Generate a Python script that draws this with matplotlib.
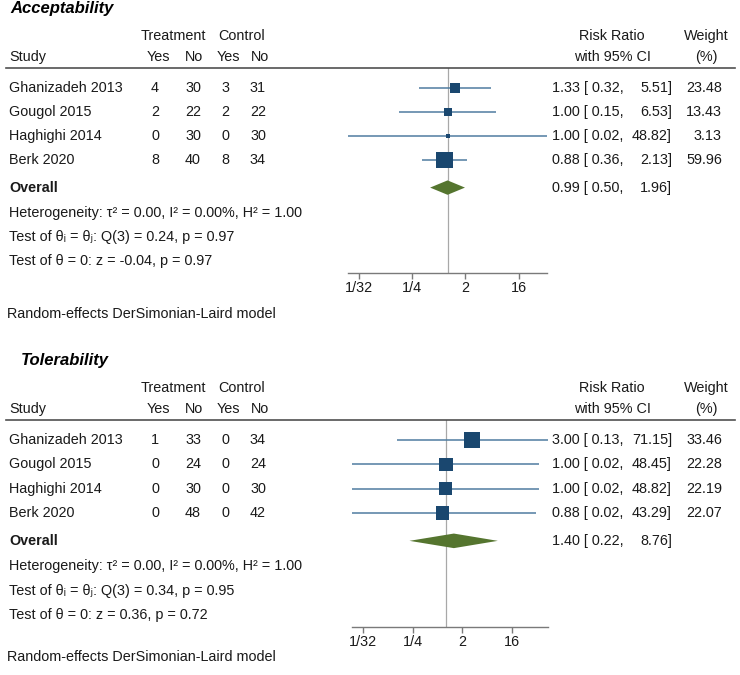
import numpy as np
import matplotlib
matplotlib.use("Agg")
import matplotlib.pyplot as plt
from matplotlib.transforms import blended_transform_factory
from matplotlib.lines import Line2D

plt.rcParams['font.family'] = ['Liberation Sans', 'DejaVu Sans']

# ---------------- data ----------------
studies = ["Ghanizadeh 2013", "Gougol 2015", "Haghighi 2014", "Berk 2020"]

acc_t_yes = [4, 2, 0, 8]
acc_t_no = [30, 22, 30, 40]
acc_c_yes = [3, 2, 0, 8]
acc_c_no = [31, 22, 30, 34]
acc_rr = [1.33, 1.00, 1.00, 0.88]
acc_lo = [0.32, 0.15, 0.02, 0.36]
acc_hi = [5.51, 6.53, 48.82, 2.13]
acc_w = [23.48, 13.43, 3.13, 59.96]
acc_overall = [0.99, 0.50, 1.96]
acc_stats = ["Heterogeneity: τ² = 0.00, I² = 0.00%, H² = 1.00",
             "Test of θᵢ = θⱼ: Q(3) = 0.24, p = 0.97",
             "Test of θ = 0: z = -0.04, p = 0.97"]

tol_t_yes = [1, 0, 0, 0]
tol_t_no = [33, 24, 30, 48]
tol_c_yes = [0, 0, 0, 0]
tol_c_no = [34, 24, 30, 42]
tol_rr = [3.00, 1.00, 1.00, 0.88]
tol_lo = [0.13, 0.02, 0.02, 0.02]
tol_hi = [71.15, 48.45, 48.82, 43.29]
tol_w = [33.46, 22.28, 22.19, 22.07]
tol_overall = [1.40, 0.22, 8.76]
tol_stats = ["Heterogeneity: τ² = 0.00, I² = 0.00%, H² = 1.00",
             "Test of θᵢ = θⱼ: Q(3) = 0.34, p = 0.95",
             "Test of θ = 0: z = 0.36, p = 0.72"]

tick_vals = [1/32, 1/4, 2, 16]
tick_labels = ["1/32", "1/4", "2", "16"]
model_note = "Random-effects DerSimonian-Laird model"

# ---------------- style ----------------
W, H = 740, 675
FS = 10.4
SQ_COLOR = "#1a476f"
CI_COLOR = "#4f7ca0"
DIA_COLOR = "#55752f"
REF_COLOR = "#a8a8a8"
AX_COLOR = "#7a7a7a"
TXT = "#1a1a1a"

fig = plt.figure(figsize=(W / 100, H / 100), dpi=100)


def fx(px):
    return px / W


def draw_panel(title, title_x, header_y, row_step, axis_y, note_y, ax_left, ax_right,
               t_yes, t_no, c_yes, c_no, rr, lo, hi, w, overall, stats):
    n = len(studies)
    first_row = header_y + 20
    y_top = -(first_row - header_y) / row_step
    y_bot = (axis_y - first_row) / row_step
    ax = fig.add_axes([fx(ax_left), 1 - axis_y / H, fx(ax_right) - fx(ax_left),
                       (axis_y - header_y) / H])
    ax.set_xscale('log', base=2)
    ax.set_xlim(min(lo), max(hi))
    ax.set_ylim(y_bot, y_top)
    ax.patch.set_alpha(0)
    for s in ['top', 'right', 'left']:
        ax.spines[s].set_visible(False)
    ax.spines['bottom'].set_color(AX_COLOR)
    ax.spines['bottom'].set_linewidth(1.0)
    ax.set_yticks([])
    ax.set_xticks(tick_vals)
    ax.set_xticklabels(tick_labels)
    ax.minorticks_off()
    ax.tick_params(axis='x', length=4, width=1.0, color=AX_COLOR,
                   labelsize=FS, labelcolor=TXT, pad=1.5)

    tr = blended_transform_factory(fig.transFigure, ax.transData)
    ys = np.arange(n)
    y_over = n + 0.15
    stat_ys = [n + 1.2, n + 2.2, n + 3.22]

    # reference line
    ax.axvline(1, color=REF_COLOR, lw=0.9, zorder=1)
    # CIs and squares
    wmax = max(w)
    sizes = [(16.5 * np.sqrt(wi / wmax) * 0.72) ** 2 for wi in w]
    ax.hlines(ys, lo, hi, color=CI_COLOR, lw=1.1, zorder=2)
    ax.scatter(rr, ys, s=sizes, marker='s', color=SQ_COLOR,
               edgecolors='none', zorder=3)
    # diamond
    est, olo, ohi = overall
    h = 0.3
    ax.fill([olo, est, ohi, est], [y_over, y_over - h, y_over, y_over + h],
            color=DIA_COLOR, lw=0, zorder=3)

    # header
    hdr1 = -(first_row - (header_y - 32)) / row_step
    hdr2 = -(first_row - (header_y - 11)) / row_step
    kw = dict(transform=tr, fontsize=FS, color=TXT, va='center', clip_on=False)
    ax.text(fx(title_x), -(first_row - (header_y - 60)) / row_step, title,
            fontsize=12, fontweight='bold', fontstyle='italic',
            ha='left', va='center', transform=tr, color='black')
    ax.text(fx(173), hdr1, "Treatment", ha='center', **kw)
    ax.text(fx(242), hdr1, "Control", ha='center', **kw)
    ax.text(fx(9), hdr2, "Study", ha='left', **kw)
    for x, lab in zip([158, 194, 228, 260], ["Yes", "No", "Yes", "No"]):
        ax.text(fx(x), hdr2, lab, ha='center', **kw)
    ax.text(fx(612), hdr1, "Risk Ratio", ha='center', **kw)
    ax.text(fx(612), hdr2, "with 95% CI", ha='center', **kw)
    ax.text(fx(706), hdr1, "Weight", ha='center', **kw)
    ax.text(fx(706), hdr2, "(%)", ha='center', **kw)
    ax.add_line(Line2D([fx(6), fx(735)], [y_top, y_top], transform=tr,
                       color="#505050", lw=1.2, clip_on=False))

    # rows
    for i in range(n):
        ax.text(fx(9), ys[i], studies[i], ha='left', **kw)
        for x, v in zip([155, 193, 225, 258],
                        [t_yes[i], t_no[i], c_yes[i], c_no[i]]):
            ax.text(fx(x), ys[i], str(v), ha='center', **kw)
        ax.text(fx(552), ys[i], f"{rr[i]:.2f} [ {lo[i]:.2f},", ha='left', **kw)
        ax.text(fx(672), ys[i], f"{hi[i]:.2f}]", ha='right', **kw)
        ax.text(fx(722), ys[i], f"{w[i]:.2f}", ha='right', **kw)

    ax.text(fx(9), y_over, "Overall", ha='left', fontweight='bold', **kw)
    ax.text(fx(552), y_over, f"{est:.2f} [ {olo:.2f},", ha='left', **kw)
    ax.text(fx(672), y_over, f"{ohi:.2f}]", ha='right', **kw)
    for yy, s in zip(stat_ys, stats):
        ax.text(fx(9), yy, s, ha='left', **kw)

    fig.text(fx(7), 1 - note_y / H, model_note, fontsize=FS, color=TXT,
             ha='left', va='center')


draw_panel("Acceptability", 10, 68, 24.0, 273, 314, 348, 547,
           acc_t_yes, acc_t_no, acc_c_yes, acc_c_no,
           acc_rr, acc_lo, acc_hi, acc_w, acc_overall, acc_stats)
draw_panel("Tolerability", 21, 420, 24.3, 627, 657, 352, 548,
           tol_t_yes, tol_t_no, tol_c_yes, tol_c_no,
           tol_rr, tol_lo, tol_hi, tol_w, tol_overall, tol_stats)

fig.savefig("out.png", dpi=100, facecolor='white')
